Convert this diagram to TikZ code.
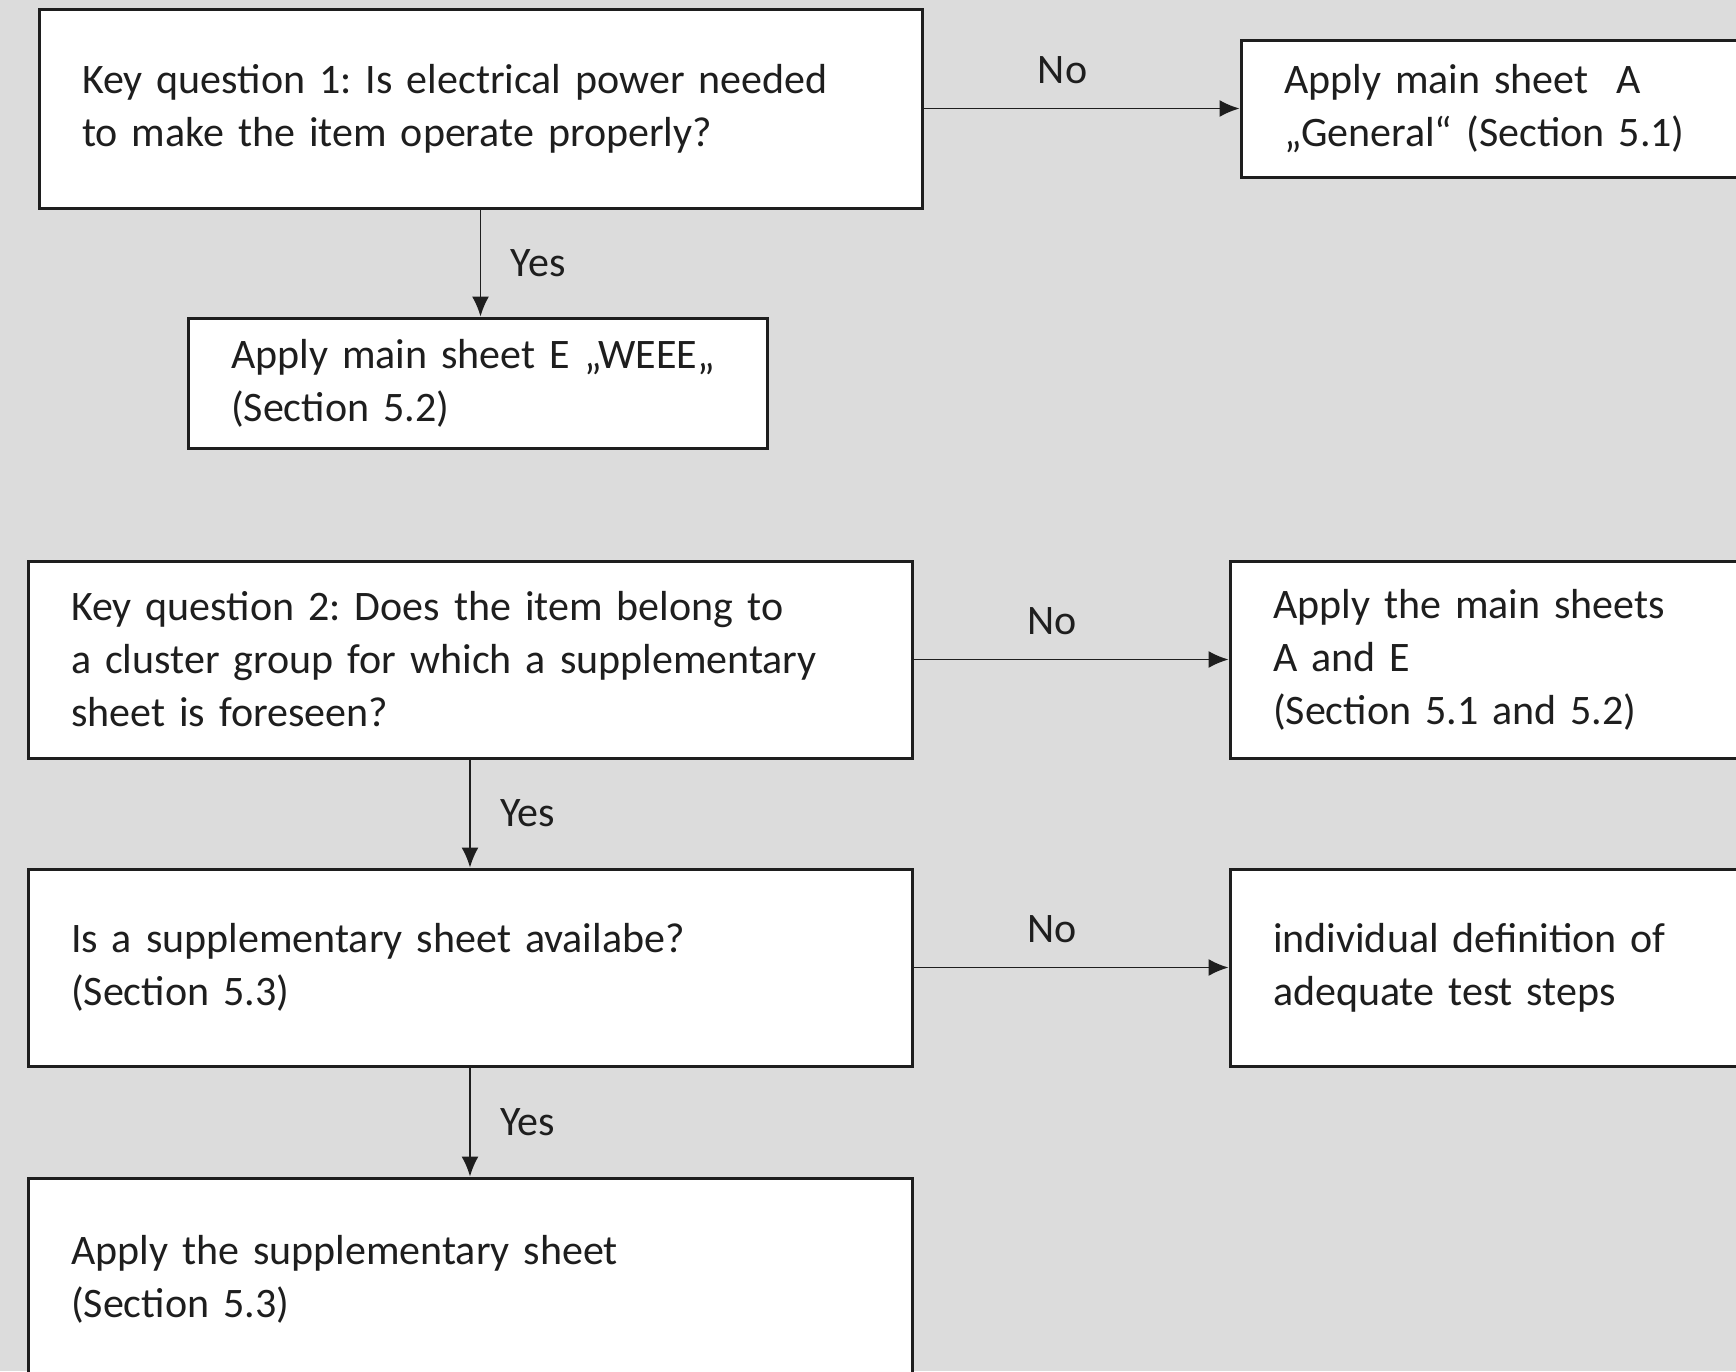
\documentclass[tikz,border=0pt]{standalone}
\usepackage{fontspec}
\setmainfont{Carlito}
\usetikzlibrary{arrows.meta}
\definecolor{bggrey}{RGB}{220,220,220}
\definecolor{ink}{RGB}{30,30,30}
\frenchspacing
\tikzset{box/.style={draw=ink, line width=3pt, fill=white, align=left,
           inner xsep=43pt, text=ink, font=\fontsize{42}{53}\selectfont},
         flow/.style={draw=ink, line width=1.8pt, -{Latex[length=20pt,width=17pt]}},
         answer/.style={text=ink, font=\fontsize{42}{53}\selectfont}}
\begin{document}
\begin{tikzpicture}[x=1pt,y=-1pt]
\clip (0,0) rectangle (1736,1371);
\fill[bggrey] (0,0) rectangle (1736,1371);
% first question
\node[box, text width=797pt, minimum height=199pt] (kq1) at (480.5,108.5)
  {Key question 1: Is electrical power needed\\to make the item operate properly?};
\node[box, text width=418pt, minimum height=137pt] (sheetA) at (1493,108.5)
  {Apply main sheet~ A\\„General“ (Section 5.1)};
\node[box, text width=493pt, minimum height=130pt] (sheetE) at (477.5,383)
  {Apply main sheet E „WEEE„\\(Section 5.2)};
% second question
\node[box, text width=798pt, minimum height=197pt] (kq2) at (470,659.5)
  {Key question 2: Does the item belong to\\a cluster group for which a supplementary\\sheet is foreseen?};
\node[box, text width=429pt, minimum height=197pt] (sheetAE) at (1487.5,659.5)
  {Apply the main sheets\\A and E\\(Section 5.1 and 5.2)};
\node[box, text width=798pt, minimum height=197pt] (avail) at (470,967.5)
  {Is a supplementary sheet availabe?\\(Section 5.3)};
\node[box, text width=429pt, minimum height=197pt] (indiv) at (1487.5,967.5)
  {individual definition of\\adequate test steps};
\node[box, text width=798pt, minimum height=202pt] (supp) at (470,1279)
  {Apply the supplementary sheet\\(Section 5.3)};
% connectors
\draw[flow] (kq1.east) -- node[answer, pos=0.44, above=20pt] {No} (sheetA.west);
\draw[flow] (kq1.south) -- node[answer, right=26pt] {Yes} (kq1.south |- sheetE.north);
\draw[flow] (kq2.east) -- node[answer, pos=0.44, above=20pt] {No} (sheetAE.west);
\draw[flow] (kq2.south) -- node[answer, right=26pt] {Yes} (avail.north);
\draw[flow] (avail.east) -- node[answer, pos=0.44, above=20pt] {No} (indiv.west);
\draw[flow] (avail.south) -- node[answer, right=26pt] {Yes} (supp.north);
\end{tikzpicture}
\end{document}
